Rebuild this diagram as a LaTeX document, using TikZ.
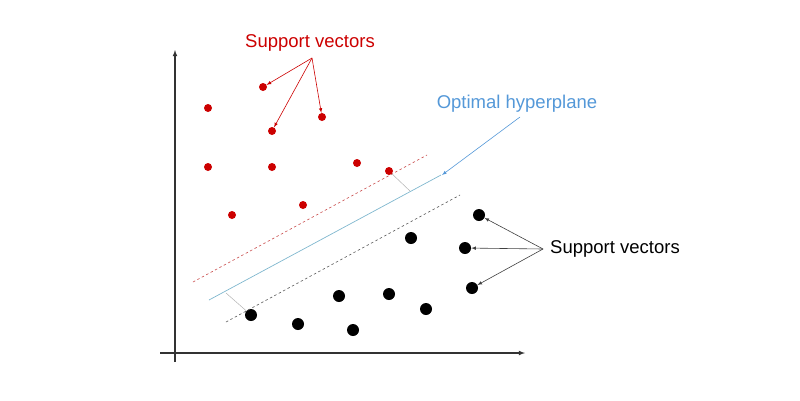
\documentclass[tikz,border=0pt]{standalone}
\usepackage{fontspec}
\setmainfont{Liberation Sans}
\begin{document}
\begin{tikzpicture}[x=1pt,y=-1pt,
  rdot/.style={circle,fill=red!80!black,inner sep=0pt,minimum size=8},
  bdot/.style={circle,fill=black,inner sep=0pt,minimum size=12},
  ax/.style={line width=1.1pt,color=black!80,-latex},
  lab/.style={font=\fontsize{18.5}{20}\selectfont},
  sv/.style={-latex,line width=0.6pt}]
\useasboundingbox (0,0) rectangle (800,400);
\draw[ax] (175,362) -- (175,50);
\draw[ax] (160,353) -- (525,353);
\foreach \n/\x/\y in {r1/263/87,r2/208/108,r3/272/131,r4/322/117,r5/208/167,r6/272/167,r7/357/163,r8/389/171,r9/232/215,r10/303/205}
  \node[rdot] (\n) at (\x,\y) {};
\foreach \n/\x/\y in {b1/479/215,b2/411/238,b3/465/248,b4/472/288,b5/251/315,b6/298/324,b7/339/296,b8/389/294,b9/426/309,b10/353/330}
  \node[bdot] (\n) at (\x,\y) {};
\coordinate (h1) at (209,300); \coordinate (h2) at (441,175);
\draw[color=cyan!50!gray!80,line width=0.7pt] (h1) -- (h2);
\coordinate (u1) at (193,282); \coordinate (u2) at (427,155);
\draw[dash pattern=on 2.5pt off 2.5pt,color=red!70!black!70,line width=0.6pt] (u1) -- (u2);
\coordinate (l1) at (226,322); \coordinate (l2) at (460,195);
\draw[dash pattern=on 2.5pt off 2.5pt,color=black!65,line width=0.6pt] (l1) -- (l2);
\coordinate (p1) at (410,191); \coordinate (p2) at (226,293);
\draw[gray!60,line width=0.5pt] (r8) -- (p1);
\draw[gray!60,line width=0.5pt] (p2) -- (b5);
\node[lab,text=red!80!black] (svr) at (310,43) {Support vectors};
\coordinate (sr) at (312,58);
\draw[sv,red!80!black] (sr) -- (r1);
\draw[sv,red!80!black] (sr) -- (r3);
\draw[sv,red!80!black] (sr) -- (r4);
\node[lab,text=cyan!60!blue!70] (opt) at (517,104) {Optimal hyperplane};
\coordinate (os) at (520,117); \coordinate (oe) at (442,175);
\draw[sv,cyan!60!blue!70] (os) -- (oe);
\node[lab] (svb) at (615,249) {Support vectors};
\coordinate (sb) at (543,249);
\draw[sv,black!75] (sb) -- (b1);
\draw[sv,black!75] (sb) -- (b3);
\draw[sv,black!75] (sb) -- (b4);
\end{tikzpicture}
\end{document}
